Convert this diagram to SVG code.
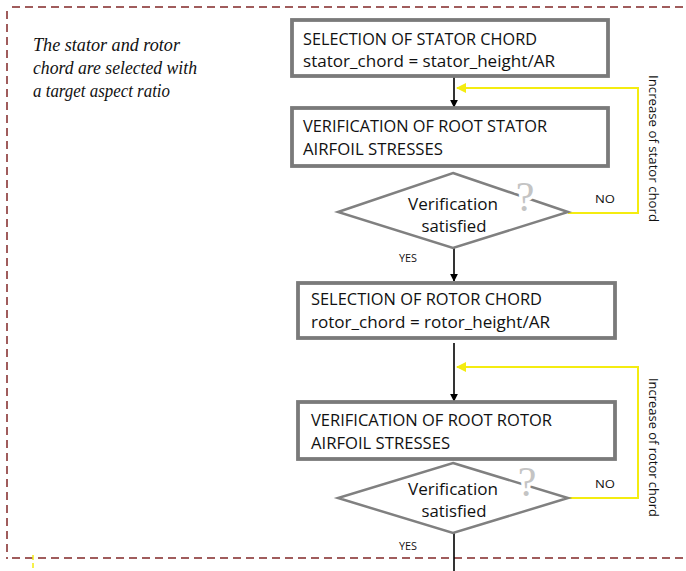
<svg xmlns="http://www.w3.org/2000/svg" width="686" height="571" viewBox="0 0 686 571">
  <style>
    .frame { fill: none; stroke: #a05c5c; stroke-width: 2; stroke-dasharray: 8 5; }
    .box { fill: #ffffff; stroke: #7a7a7a; stroke-width: 3.8; }
    .dia { fill: #ffffff; stroke: #808080; stroke-width: 2.5; stroke-linejoin: miter; }
    .lbl { font-family: "Open Sans", "Liberation Sans", sans-serif; font-size: 17px; fill: #111111; }
    .dlbl { font-family: "Open Sans", "Liberation Sans", sans-serif; font-size: 17px; fill: #111111; text-anchor: middle; }
    .small { font-family: "Open Sans", "Liberation Sans", sans-serif; font-size: 11.5px; fill: #111111; }
    .note { font-family: "Liberation Serif", "Times New Roman", serif; font-style: italic; font-size: 19px; fill: #111111; }
    .q { font-family: "Liberation Serif", serif; font-size: 42px; fill: #c4c4c4; stroke: #ffffff; stroke-width: 7; paint-order: stroke; text-anchor: middle; }
    .flow { fill: none; stroke: #000000; stroke-width: 1.6; }
    .loop { fill: none; stroke: #f4ec10; stroke-width: 2; }
    .side { font-family: "Open Sans", "Liberation Sans", sans-serif; font-size: 13px; fill: #111111; }
  </style>
  <defs>
    <marker id="arrowBlack" viewBox="0 0 10 10" refX="9" refY="5" markerWidth="5" markerHeight="5" orient="auto" markerUnits="strokeWidth">
      <path d="M0,0 L10,5 L0,10 z" fill="#000000"/>
    </marker>
    <marker id="arrowYellow" viewBox="0 0 10 10" refX="9" refY="5" markerWidth="5" markerHeight="5" orient="auto" markerUnits="strokeWidth">
      <path d="M0,0 L10,5 L0,10 z" fill="#f4ec10"/>
    </marker>
  </defs>

  <rect width="686" height="571" fill="#ffffff"/>

  <!-- dashed frame -->
  <g id="frame">
    <path class="frame" d="M12,7 H686"/>
    <path class="frame" d="M7,11 V559"/>
    <path class="frame" d="M12,558 H686"/>
    <path d="M33,555 V571" stroke="#f4ec10" stroke-width="1.5" stroke-dasharray="5 3"/>
  </g>

  <!-- side note -->
  <g id="note">
    <text class="note" x="33" y="51" textLength="147" lengthAdjust="spacingAndGlyphs">The stator and rotor</text>
    <text class="note" x="33" y="74" textLength="164" lengthAdjust="spacingAndGlyphs">chord are selected with</text>
    <text class="note" x="33" y="97" textLength="137" lengthAdjust="spacingAndGlyphs">a target aspect ratio</text>
  </g>

  <!-- connectors -->
  <g id="connectors">
    <path class="flow" d="M454,77 V107" marker-end="url(#arrowBlack)"/>
    <path class="flow" d="M454,248 V281" marker-end="url(#arrowBlack)"/>
    <path class="flow" d="M454,343 V401" marker-end="url(#arrowBlack)"/>
    <path class="flow" d="M454,533 V571"/>
    <path class="loop" d="M568,213 H638 V88 H457" marker-end="url(#arrowYellow)"/>
    <path class="loop" d="M568,498 H638 V367 H457" marker-end="url(#arrowYellow)"/>
    <text class="small" x="595" y="203" textLength="20" lengthAdjust="spacingAndGlyphs">NO</text>
    <text class="small" x="399" y="262" textLength="18" lengthAdjust="spacingAndGlyphs">YES</text>
    <text class="small" x="595" y="488" textLength="20" lengthAdjust="spacingAndGlyphs">NO</text>
    <text class="small" x="399" y="550" textLength="18" lengthAdjust="spacingAndGlyphs">YES</text>
    <text class="side" transform="translate(649,75) rotate(90)" textLength="147" lengthAdjust="spacingAndGlyphs">Increase of stator chord</text>
    <text class="side" transform="translate(649,378) rotate(90)" textLength="139" lengthAdjust="spacingAndGlyphs">Increase of rotor chord</text>
  </g>

  <g id="stator-chord">
    <rect class="box" x="292" y="20" width="316" height="56"/>
    <text class="lbl" x="303" y="45" textLength="234" lengthAdjust="spacingAndGlyphs">SELECTION OF STATOR CHORD</text>
    <text class="lbl" x="303" y="67" textLength="252" lengthAdjust="spacingAndGlyphs">stator_chord = stator_height/AR</text>
  </g>

  <g id="stator-stress">
    <rect class="box" x="292" y="108" width="316" height="58"/>
    <text class="lbl" x="303" y="132" textLength="244" lengthAdjust="spacingAndGlyphs">VERIFICATION OF ROOT STATOR</text>
    <text class="lbl" x="303" y="155" textLength="140" lengthAdjust="spacingAndGlyphs">AIRFOIL STRESSES</text>
  </g>

  <g id="stator-check">
    <polygon class="dia" points="453,173 568,212 453,248 338,212"/>
    <text class="q" x="525" y="211">?</text>
    <text class="dlbl" x="453" y="210" textLength="90" lengthAdjust="spacingAndGlyphs">Verification</text>
    <text class="dlbl" x="454" y="232" textLength="65" lengthAdjust="spacingAndGlyphs">satisfied</text>
  </g>

  <g id="rotor-chord">
    <rect class="box" x="298" y="283" width="317" height="55"/>
    <text class="lbl" x="311" y="305" textLength="231" lengthAdjust="spacingAndGlyphs">SELECTION OF ROTOR CHORD</text>
    <text class="lbl" x="311" y="328" textLength="239" lengthAdjust="spacingAndGlyphs">rotor_chord = rotor_height/AR</text>
  </g>

  <g id="rotor-stress">
    <rect class="box" x="298" y="402" width="317" height="57"/>
    <text class="lbl" x="311" y="426" textLength="241" lengthAdjust="spacingAndGlyphs">VERIFICATION OF ROOT ROTOR</text>
    <text class="lbl" x="311" y="449" textLength="139" lengthAdjust="spacingAndGlyphs">AIRFOIL STRESSES</text>
  </g>

  <g id="rotor-check">
    <polygon class="dia" points="453,463 568,498 453,533 338,498"/>
    <text class="q" x="527" y="496">?</text>
    <text class="dlbl" x="453" y="495" textLength="90" lengthAdjust="spacingAndGlyphs">Verification</text>
    <text class="dlbl" x="454" y="517" textLength="65" lengthAdjust="spacingAndGlyphs">satisfied</text>
  </g>
</svg>
